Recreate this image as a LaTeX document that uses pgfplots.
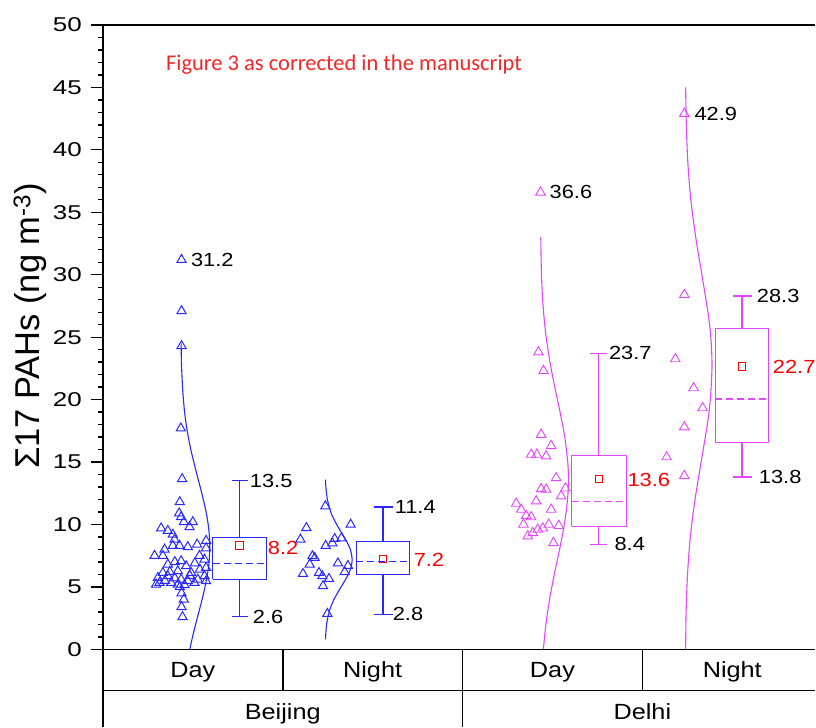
\documentclass[border=0pt]{standalone}
\usepackage{fontspec}
\setmainfont{Liberation Sans}
\newfontfamily\tickf{Liberation Sans}[FakeStretch=1.3]
\newfontfamily\valf{Liberation Sans}[FakeStretch=1.15]
\newfontfamily\catf{Liberation Sans}[FakeStretch=1.15]
\newfontfamily\titf{Carlito}
\usepackage{pgfplots}
\pgfplotsset{compat=1.18}
\definecolor{bb}{RGB}{40,40,255}
\definecolor{mm}{RGB}{228,70,255}
\definecolor{rr}{RGB}{255,0,0}
\definecolor{titred}{RGB}{240,40,40}
\begin{document}
\begin{tikzpicture}[x=1pt,y=1pt]
\begin{axis}[
  scale only axis, width=713pt, height=625pt,
  xmin=103, xmax=816, ymin=0, ymax=50,
  axis x line=box, axis y line=left,
  xtick=\empty,
  ytick={0,5,...,50},
  minor y tick num=4,
  ytick pos=left,
  tick align=outside,
  major tick length=12pt,
  minor tick length=5pt,
  tick style={black, line width=1.3pt},
  axis line style={line width=1.6pt, -},
  /pgf/number format/assume math mode=true,
  yticklabel style={font=\fontsize{20}{20}\tickf, inner sep=0pt, anchor=east, xshift=-9pt},
  clip=false,
]
\path (0,-6.24) rectangle (816,52);
% ---------- Beijing Day ----------
\addplot[only marks, mark=triangle, mark size=5.3pt, mark options={bb, line width=1pt}] coordinates {
(181.7,31.2)(181.7,27.1)(181.7,24.3)(181,17.7)(182.3,13.65)(180,11.8)(179.3,10.9)
(181.3,10.6)(184,10.2)(193,10.2)(189.7,9.8)(161.3,9.7)(168,9.5)(173,9.2)(174.7,8.8)
(197.3,8.4)(206.3,8.7)(173,8.3)(179.7,8.3)(188,8.2)(164.7,8.0)(154.7,7.5)(163,7.5)
(206.3,8.1)(199.7,7.5)(204.7,7.2)(181.3,7.07)(168,6.8)(186.3,6.67)(206.3,6.53)
(163,6.13)(178,6.27)(191.3,6.13)(204.7,5.87)(158,5.73)(168,5.87)(181.3,5.6)(188,5.47)
(198,5.6)(159.7,5.33)(171.3,5.33)(178,5.2)(194.7,5.33)(206.3,5.47)(156.3,5.2)(184.7,5.15)
(175,7.0)(195,6.9)(170,6.2)(190,5.9)(200,6.4)(165,5.5)(175,5.7)
(180,5.0)(181.7,4.5)(184,4.0)(181.7,3.4)(182.7,2.6)
};
\addplot[bb, line width=1.1pt, smooth] coordinates {
(190.0,0)(192.7,1)(195.8,2)(199.1,3)(202.3,4)(205.2,5)(207.6,6)(209.3,7)(210.0,8.2)
(209.7,9)(208.4,10)(206.3,11)(203.5,12)(200.4,13)(197.1,14)(194.0,15)(191.0,16)
(188.5,17)(186.4,18)(184.8,19)(183.6,20)(182.7,21)(182.1,22)(181.6,23)(181.3,24.5)
};
\addplot[bb, line width=1.1pt] coordinates {(213,5.6)(267,5.6)(267,8.98)(213,8.98)(213,5.6)};
\addplot[bb, line width=1.1pt, dash pattern=on 7pt off 4pt] coordinates {(213,6.86)(267,6.86)};
\addplot[bb, line width=1.1pt] coordinates {(240,8.98)(240,13.5)};
\addplot[bb, line width=1.1pt] coordinates {(232,13.5)(248,13.5)};
\addplot[bb, line width=1.1pt] coordinates {(240,5.6)(240,2.6)};
\addplot[bb, line width=1.1pt] coordinates {(232,2.6)(248,2.6)};
\addplot[only marks, mark=square, mark size=3.8pt, mark options={rr, line width=1pt}] coordinates {(240,8.3)};
% ---------- Beijing Night ----------
\addplot[only marks, mark=triangle, mark size=5.3pt, mark options={bb, line width=1pt}] coordinates {
(325.7,11.47)(351,10.0)(306.7,9.73)(300.7,8.8)(335,8.85)(341.7,8.9)(332.7,8.5)(326,8.3)
(312.7,7.47)(315,7.33)(310,6.8)(338.3,6.9)(348.3,6.7)(303.3,6.05)(319.3,6.13)(345,6.2)
(322.7,5.87)(329.3,5.65)(323.3,5.07)(327.7,2.85)
};
\addplot[bb, line width=1.1pt, smooth] coordinates {
(325.8,0.8)(326.9,2)(329.4,3)(331.6,3.5)(334.3,4)(337.7,4.5)(341.4,5)(345.2,5.5)(348.6,6)(351.1,6.5)
(352.5,7.2)(350.7,8)(347.9,8.5)(344.5,9)(340.7,9.5)(337.0,10)(333.7,10.5)(331.1,11)
(327.7,12)(326.2,13)(325.8,13.6)
};
\addplot[bb, line width=1.1pt] coordinates {(356.7,6.0)(410,6.0)(410,8.67)(356.7,8.67)(356.7,6.0)};
\addplot[bb, line width=1.1pt, dash pattern=on 7pt off 4pt] coordinates {(356.7,7.07)(410,7.07)};
\addplot[bb, line width=1.1pt] coordinates {(383.4,8.67)(383.4,11.4)};
\addplot[bb, line width=1.1pt] coordinates {(374,11.4)(393,11.4)};
\addplot[bb, line width=1.1pt] coordinates {(383.4,6.0)(383.4,2.8)};
\addplot[bb, line width=1.1pt] coordinates {(374,2.8)(393,2.8)};
\addplot[only marks, mark=square, mark size=3.8pt, mark options={rr, line width=1pt}] coordinates {(383.4,7.25)};
% ---------- Delhi Day ----------
\addplot[only marks, mark=triangle, mark size=5.5pt, mark options={mm, line width=0.9pt}] coordinates {
(541,36.6)(539,23.8)(544,22.3)(541.7,17.2)(551.7,16.3)(531.7,15.6)(537.3,15.6)(546.7,15.47)
(556.7,13.73)(541.7,12.85)(546.7,12.8)(566,12.9)(561.7,12.27)(536.7,11.87)(516.7,11.68)
(521.7,11.2)(551.7,11.2)(526.7,10.7)(531.7,10.6)(524,10.0)(549.3,10.0)(559.3,9.9)
(543.3,9.7)(538.3,9.6)(533.3,9.33)(528.3,9.07)(554,8.53)
};
\addplot[mm, line width=1.1pt, smooth] coordinates {
(543.9,0)(546.4,2)(550.1,4)(554.8,6)(560.1,8)(564.9,10)(568.1,12)(569.0,13.6)(568.3,15)
(565.3,17)(560.6,19)(555.3,21)(550.5,23)(546.7,25)(544.1,27)(542.5,29)(541.7,31)(541.3,33)
};
\addplot[mm, line width=1.1pt] coordinates {(572.3,9.87)(626.7,9.87)(626.7,15.52)(572.3,15.52)(572.3,9.87)};
\addplot[mm, line width=1.1pt, dash pattern=on 7pt off 4pt] coordinates {(572.3,11.87)(626.7,11.87)};
\addplot[mm, line width=1.1pt] coordinates {(599.5,15.52)(599.5,23.7)};
\addplot[mm, line width=1.1pt] coordinates {(590.7,23.7)(607.7,23.7)};
\addplot[mm, line width=1.1pt] coordinates {(599.5,9.87)(599.5,8.4)};
\addplot[mm, line width=1.1pt] coordinates {(590.7,8.4)(607.7,8.4)};
\addplot[only marks, mark=square, mark size=3.8pt, mark options={rr, line width=1pt}] coordinates {(599.5,13.65)};
% ---------- Delhi Night ----------
\addplot[only marks, mark=triangle, mark size=5.5pt, mark options={mm, line width=0.9pt}] coordinates {
(685,42.9)(685,28.4)(676,23.25)(694.3,20.93)(703.3,19.33)(685,17.8)(667.3,15.4)(685,13.9)
};
\addplot[mm, line width=1.1pt, smooth] coordinates {
(686.3,0)(686.8,3)(688.2,6)(691.0,9)(695.7,12)(701.8,15)(708.0,18)(711.0,20)(712.7,22.7)
(711.5,25)(708.6,27)(702.6,30)(696.4,33)(691.5,36)(688.5,39)(687.0,42)(686.3,45)
};
\addplot[mm, line width=1.1pt] coordinates {(716,16.59)(769.3,16.59)(769.3,25.73)(716,25.73)(716,16.59)};
\addplot[mm, line width=1.1pt, dash pattern=on 7pt off 4pt] coordinates {(716,20.05)(769.3,20.05)};
\addplot[mm, line width=1.1pt] coordinates {(742.7,25.73)(742.7,28.3)};
\addplot[mm, line width=1.1pt] coordinates {(734,28.3)(752.7,28.3)};
\addplot[mm, line width=1.1pt] coordinates {(742.7,16.59)(742.7,13.8)};
\addplot[mm, line width=1.1pt] coordinates {(734,13.8)(752.7,13.8)};
\addplot[only marks, mark=square, mark size=3.8pt, mark options={rr, line width=1pt}] coordinates {(742.7,22.67)};
% ---------- value labels ----------
\begin{scope}[every node/.style={anchor=west, inner sep=0pt, font=\fontsize{19}{19}\valf}]
\node at (191,31.2) {31.2};
\node at (250,13.5) {13.5};
\node at (253,2.6) {2.6};
\node[text=rr] at (268,8.15) {8.2};
\node at (395,11.4) {11.4};
\node at (393,2.8) {2.8};
\node[text=rr] at (414,7.15) {7.2};
\node at (550,36.6) {36.6};
\node at (609.5,23.7) {23.7};
\node at (615,8.4) {8.4};
\node[text=rr] at (628,13.55) {13.6};
\node at (695,42.9) {42.9};
\node at (757.5,28.3) {28.3};
\node at (759.5,13.8) {13.8};
\node[text=rr] at (773.5,22.6) {22.7};
\end{scope}
% ---------- title and y label ----------
\node[anchor=west, inner sep=0pt, font=\fontsize{22.5}{22.5}\titf, text=titred] at (166,46.8) {Figure 3 as corrected in the manuscript};
\node[rotate=90, inner sep=0pt, font=\fontsize{34.5}{34.5}\selectfont] at (30,25.9) {Σ17 PAHs (ng m\textsuperscript{-3})};
% ---------- category table ----------
\draw[line width=1.6pt] (103,0) -- (103,-6.2);
\draw[line width=1.6pt] (103,-3.28) -- (816,-3.28);
\draw[line width=1.6pt] (283,0) -- (283,-3.28);
\draw[line width=1.6pt] (463,0) -- (463,-6.2);
\draw[line width=1.6pt] (643,0) -- (643,-3.28);
\begin{scope}[every node/.style={anchor=base, inner sep=0pt, font=\fontsize{22}{22}\catf}]
\node at (193,-2.22) {Day};
\node at (373,-2.22) {Night};
\node at (553,-2.22) {Day};
\node at (733,-2.22) {Night};
\node at (283,-5.6) {Beijing};
\node at (643,-5.6) {Delhi};
\end{scope}
\end{axis}
\end{tikzpicture}
\end{document}
